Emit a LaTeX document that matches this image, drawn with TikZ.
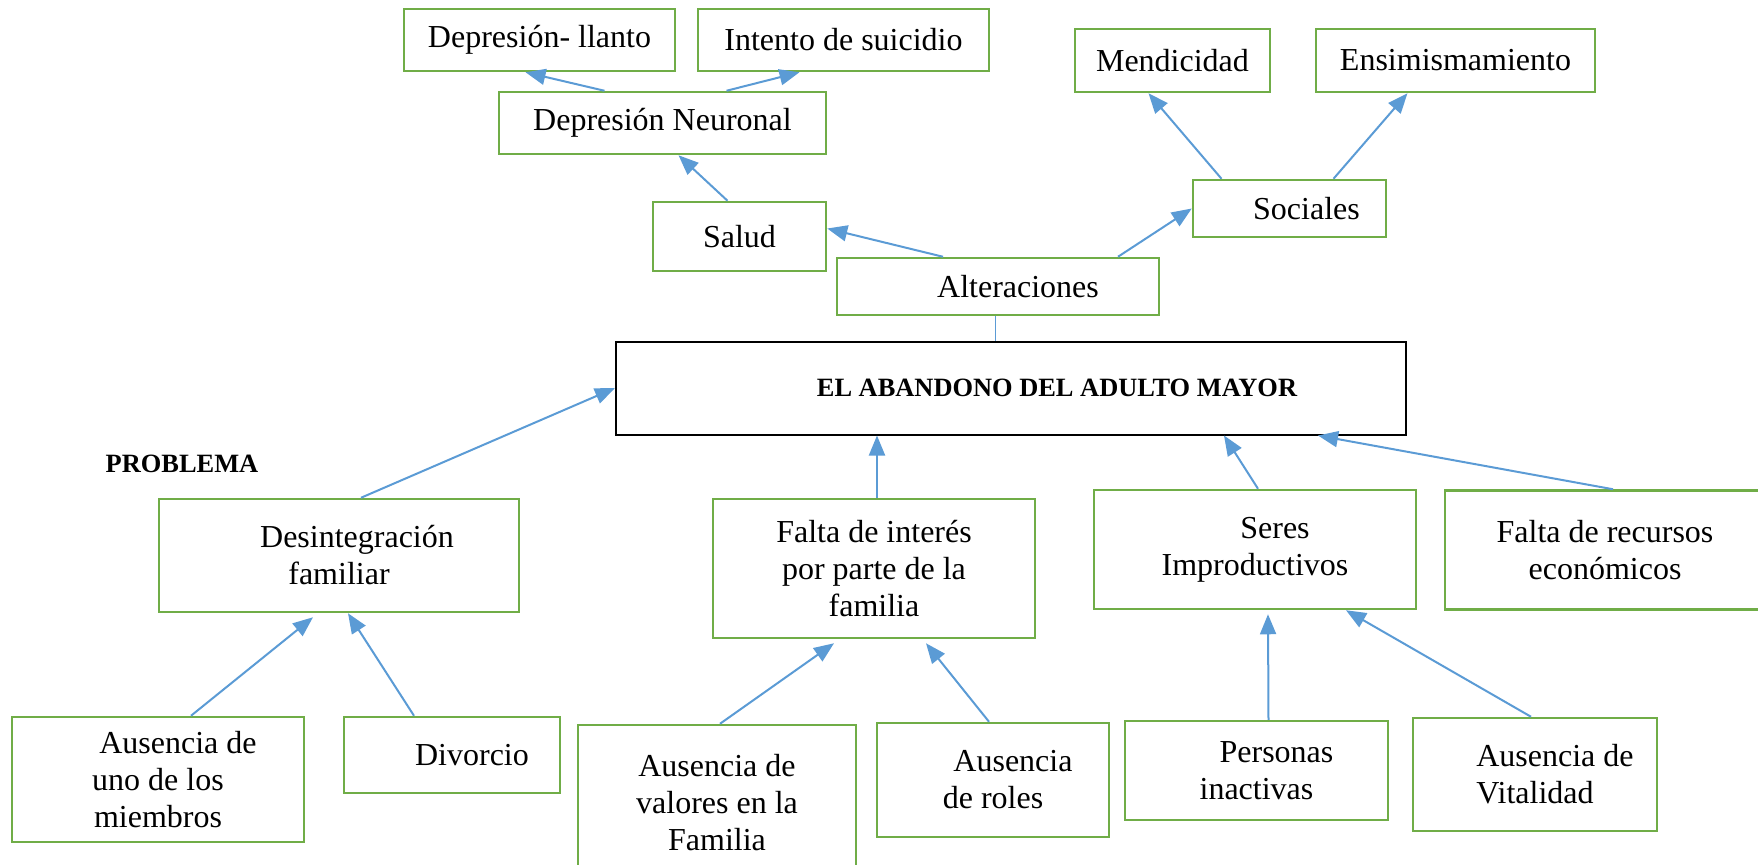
\documentclass[tikz,border=0pt]{standalone}
\usepackage{fontspec}
\setmainfont{Liberation Serif}
\usetikzlibrary{arrows.meta}
\definecolor{boxgreen}{RGB}{112,173,71}
\definecolor{arrowblue}{RGB}{91,155,213}

\begin{document}
\begin{tikzpicture}[x=0.5pt,y=-0.5pt,->,>={Triangle[length=10pt,width=8pt]},
	every edge/.append style={draw=arrowblue,line width=1pt},
	box/.style={draw=boxgreen,line width=1.25pt,inner sep=0pt,align=center,font=\fontsize{16pt}{18.5pt}\selectfont},
	title/.style={font=\fontsize{13.2pt}{15pt}\selectfont\bfseries}]
	\useasboundingbox (0,0) rectangle (1758,864);

	\node[box,minimum width=135.5pt,minimum height=31pt] (llanto) at (539.5,40) {Depresión- llanto};
	\node[box,minimum width=145.5pt,minimum height=31pt] (suicidio) at (843.5,40) {Intento de suicidio};
	\node[box,minimum width=163.5pt,minimum height=31pt] (neuronal) at (662.5,123) {Depresión Neuronal};
	\node[box,minimum width=86.5pt,minimum height=34.5pt] (salud) at (739.5,236.5) {Salud};
	\node[box,minimum width=161pt,minimum height=28.5pt] (alter) at (998,286.5) {\hspace*{20pt}Alteraciones};
	\node[box,minimum width=97.5pt,minimum height=31.5pt] (mendicidad) at (1172.5,60.5) {Mendicidad};
	\node[box,minimum width=139.5pt,minimum height=31.5pt] (ensimis) at (1455.5,60.5) {Ensimismamiento};
	\node[box,minimum width=96.5pt,minimum height=28.5pt] (sociales) at (1289.5,208.5) {\hspace*{17pt}Sociales};
	\node[box,title,draw=black,line width=1pt,minimum width=395pt,minimum height=46.5pt] (abandono) at (1011,388) {\hspace*{46pt}EL ABANDONO DEL ADULTO MAYOR};
	\node[title] (problema) at (182,464) {PROBLEMA};

	\node[box,minimum width=180pt,minimum height=56.5pt] (desint) at (339,555.5) {\hspace*{18pt}Desintegración\\familiar};
	\node[box,minimum width=161pt,minimum height=69.5pt] (interes) at (874,568.5) {Falta de interés\\por parte de la\\familia};
	\node[box,minimum width=161pt,minimum height=59.5pt] (seres) at (1255,549.5) {\hspace*{20pt}Seres\\Improductivos};
	\node[box,minimum width=160pt,minimum height=59.5pt] (recursos) at (1605,550) {Falta de recursos\\económicos};

	\node[box,minimum width=146pt,minimum height=62.5pt] (miembros) at (158,779.5) {\hspace*{20pt}Ausencia de\\uno de los\\miembros};
	\node[box,minimum width=108pt,minimum height=38pt] (divorcio) at (452,755) {\hspace*{20pt}Divorcio};
	\node[box,minimum width=139pt,minimum height=77.5pt] (valores) at (717,802.5) {Ausencia de\\valores en la\\Familia};
	\node[box,minimum width=116pt,minimum height=57pt] (roles) at (993,780) {\hspace*{20pt}Ausencia\\de roles};
	\node[box,minimum width=131.5pt,minimum height=49.5pt] (inactivas) at (1256.5,770.5) {\hspace*{20pt}Personas\\inactivas};
	\node[box,minimum width=122pt,minimum height=56.5pt] (vitalidad) at (1535,774.5) {\hspace*{20pt}Ausencia de\\Vitalidad};

	\path ([xshift=-29pt]neuronal.north) edge ([xshift=-7pt]llanto.south);
	\path ([xshift=32pt]neuronal.north) edge ([xshift=-22pt]suicidio.south);
	\path ([xshift=-6pt]salud.north) edge ([xshift=8pt]neuronal.south);
	\path ([xshift=-27.5pt]alter.north) edge ([yshift=4pt]salud.east);
	\path ([xshift=60pt]alter.north) edge (sociales.west);
	\path ([xshift=-34pt]sociales.north) edge ([xshift=-12pt]mendicidad.south);
	\path ([xshift=22pt]sociales.north) edge ([xshift=-24pt]ensimis.south);
	\path ([xshift=-1.5pt]alter.south) edge[-,line width=0.5pt] ([xshift=-8pt]abandono.north);

	\path ([xshift=11pt]desint.north) edge (abandono.west);
	\path ([xshift=1.5pt]interes.north) edge ([xshift=-67pt]abandono.south);
	\path ([xshift=1.5pt]seres.north) edge ([xshift=106.5pt]abandono.south);
	\path ([xshift=4pt]recursos.north) edge ([xshift=153.5pt]abandono.south);

	\path ([xshift=16.5pt]miembros.north) edge ([xshift=-13pt,yshift=-2pt]desint.south);
	\path ([xshift=-19pt]divorcio.north) edge ([xshift=4.5pt]desint.south);
	\path ([xshift=1.5pt]valores.north) edge ([xshift=-20pt,yshift=-2pt]interes.south);
	\path ([xshift=-2pt]roles.north) edge ([xshift=26pt,yshift=-2pt]interes.south);
	\path ([xshift=6pt]inactivas.north) edge ([xshift=6.5pt,yshift=-2pt]seres.south);
	\path ([xshift=-2pt]vitalidad.north) edge ([xshift=45.5pt]seres.south);
\end{tikzpicture}
\end{document}
